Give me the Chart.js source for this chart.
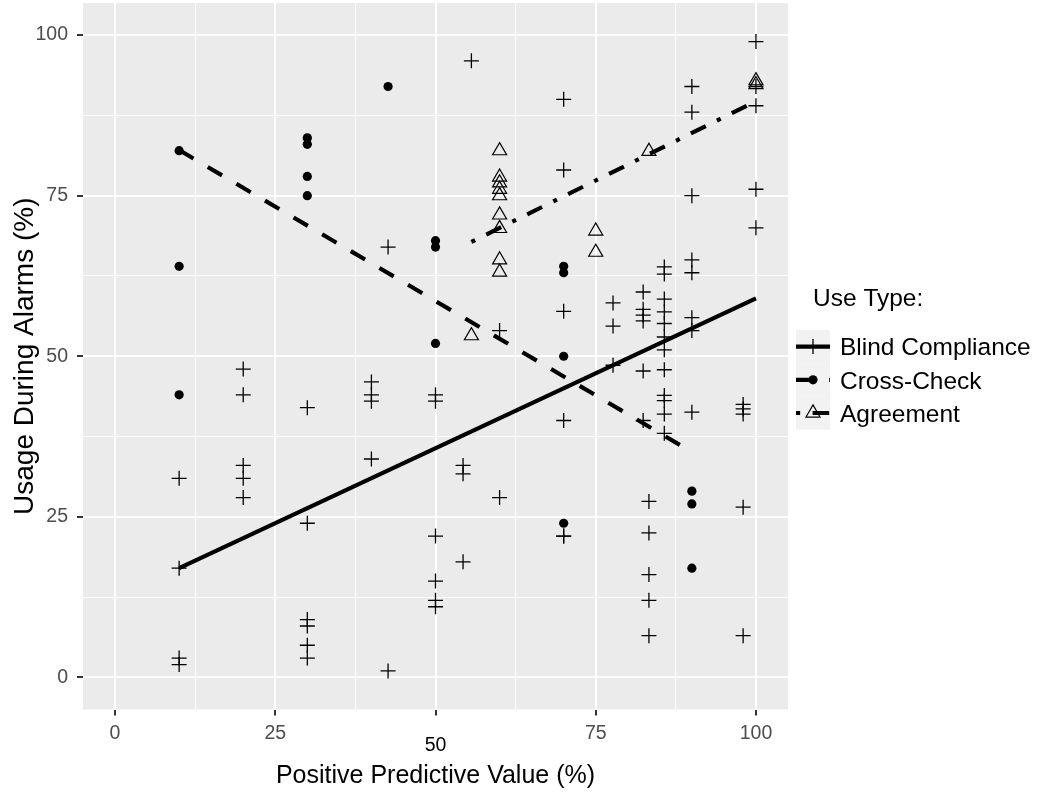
<!DOCTYPE html>
<html>
<head>
<meta charset="utf-8">
<script src="https://cdn.jsdelivr.net/npm/chart.js@4.4.1/dist/chart.umd.min.js"></script>
<style>
  html, body { margin: 0; padding: 0; background: #fff; }
</style>
</head>
<body>
<canvas id="ppvChart" width="1039" height="792"></canvas>
<script>
const FONT = '"Liberation Sans", Arial, Helvetica, sans-serif'

// PPV columns (%) and the usage values (%) observed at each one
const blindCols = [10, 20, 30, 40, 42.6, 50, 54.3, 55.6, 60, 70, 77.7, 82.4, 83.3, 85.7, 90, 98, 100]
const blindUsage = [
    [31, 17, 3, 2],
    [48, 44, 33, 31, 28],
    [42, 24, 9, 8, 5, 3],
    [46, 44, 43, 34],
    [67, 1],
    [44, 43, 22, 15, 12, 11],
    [33, 31.7, 18],
    [96],
    [54, 28],
    [90, 79, 57, 40, 22, 22],
    [58.3, 54.7, 48.6],
    [60, 57.3, 56.4, 55.5, 47.7, 40],
    [27.4, 22.5, 16, 12, 6.5],
    [63.9, 62.8, 58.9, 56.9, 55.1, 53, 51, 47.9, 43.9, 43.1, 41, 38],
    [92, 88, 75, 65, 63, 56, 54, 41.3],
    [42.5, 41.8, 41, 26.5, 6.5],
    [99, 92, 89, 76, 70]
]

const crossCols = [10, 30, 42.6, 50, 70, 90]
const crossUsage = [
    [82, 64, 44],
    [84, 83, 78, 75],
    [92],
    [68, 67, 52],
    [64, 63, 50, 24],
    [29, 27, 17]
]

const agreeCols = [55.6, 60, 75, 83.3, 100]
const agreeUsage = [
    [53.2],
    [82, 77.9, 77, 76, 75, 72, 69.9, 65, 63.1],
    [69.5, 66.2],
    [81.9],
    [92.9, 92.3]
]

// fitted lines, one per use type
const blindFitX = [10, 100]
const blindFitY = [17, 59]
const crossFitX = [10, 90]
const crossFitY = [82.1, 35.1]
const agreeFitX = [55.6, 100]
const agreeFitY = [67.8, 89.7]

const useTypes = ['Blind Compliance', 'Cross-Check', 'Agreement']
const gridValues = [0, 12.5, 25, 37.5, 50, 62.5, 75, 87.5, 100]
const tickValues = [0, 25, 50, 75, 100]

const toPoints = (cols, usage) => cols.flatMap((x, i) => usage[i].map(y => ({ x, y })))
const toLine = (xs, ys) => xs.map((x, i) => ({ x, y: ys[i] }))

const DASHED = [16.6, 16.6]
const DOTDASH = [4.15, 12.45, 16.6, 12.45]
const LINE_W = 4.15

const markers = [
    { pointStyle: 'cross', radius: 7.5, borderWidth: 1.3, fill: 'rgba(0,0,0,0)' },
    { pointStyle: 'circle', radius: 4.6, borderWidth: 0, fill: '#000' },
    { pointStyle: 'triangle', radius: 8.1, borderWidth: 1.2, fill: 'rgba(0,0,0,0)' }
]
const dashes = [[], DASHED, DOTDASH]

const pointSet = (label, data, m) => ({
    label,
    data,
    order: 2,
    pointStyle: m.pointStyle,
    pointRadius: m.radius,
    pointHoverRadius: m.radius,
    pointBorderWidth: m.borderWidth,
    pointBorderColor: '#000',
    pointBackgroundColor: m.fill
})

const lineSet = (label, data, dash) => ({
    label,
    data,
    order: 1,
    showLine: true,
    pointRadius: 0,
    borderColor: '#000',
    borderWidth: LINE_W,
    borderDash: dash,
    borderCapStyle: 'butt'
})

const panelBackground = {
    id: 'panelBackground',
    beforeDraw(chart) {
        const { ctx, chartArea: a } = chart
        ctx.save()
        ctx.fillStyle = '#fff'
        ctx.fillRect(0, 0, chart.width, chart.height)
        ctx.fillStyle = '#EBEBEB'
        ctx.fillRect(a.left, a.top, a.right - a.left, a.bottom - a.top)
        ctx.restore()
    }
}

// legend on the right: title, gray key boxes with line + marker, labels
const useTypeLegend = {
    id: 'useTypeLegend',
    afterDraw(chart) {
        const ctx = chart.ctx
        const keyX = chart.chartArea.right + 8
        const keyW = 34
        const keyTop = 330
        const keyH = 33.2
        ctx.save()
        ctx.fillStyle = '#000'
        ctx.font = `24.5px ${FONT}`
        ctx.textBaseline = 'middle'
        ctx.textAlign = 'left'
        ctx.fillText('Use Type:', keyX + 17, 299)

        useTypes.forEach((name, i) => {
            const cy = keyTop + keyH * (i + 0.5)
            ctx.fillStyle = '#F2F2F2'
            ctx.fillRect(keyX, keyTop + keyH * i, keyW, keyH)

            ctx.strokeStyle = '#000'
            ctx.lineWidth = LINE_W
            ctx.lineCap = 'butt'
            ctx.setLineDash(dashes[i])
            ctx.beginPath()
            ctx.moveTo(keyX, cy)
            ctx.lineTo(keyX + keyW, cy)
            ctx.stroke()
            ctx.setLineDash([])

            const m = markers[i]
            ctx.lineWidth = m.borderWidth
            ctx.fillStyle = m.fill
            Chart.helpers.drawPoint(ctx, m, keyX + keyW / 2, cy)

            ctx.fillStyle = '#000'
            ctx.fillText(name, keyX + 44, cy + 2)
        })
        ctx.restore()
    }
}

const axisGrid = {
    color: '#fff',
    lineWidth: c => (c.tick && c.tick.value % 25 === 0 ? 2 : 1),
    drawTicks: true,
    tickLength: 6,
    tickColor: c => (c.tick && c.tick.value % 25 === 0 ? '#333' : 'rgba(0,0,0,0)'),
    tickWidth: c => (c.tick && c.tick.value % 25 === 0 ? 2 : 0)
}

const setGridTicks = s => { s.ticks = gridValues.map(value => ({ value })) }
const tickLabel = v => (tickValues.includes(v) ? String(v) : '')

new Chart('ppvChart', {
    type: 'scatter',
    data: {
        datasets: [
            lineSet(useTypes[0] + ' fit', toLine(blindFitX, blindFitY), []),
            lineSet(useTypes[1] + ' fit', toLine(crossFitX, crossFitY), DASHED),
            lineSet(useTypes[2] + ' fit', toLine(agreeFitX, agreeFitY), DOTDASH),
            pointSet(useTypes[0], toPoints(blindCols, blindUsage), markers[0]),
            pointSet(useTypes[1], toPoints(crossCols, crossUsage), markers[1]),
            pointSet(useTypes[2], toPoints(agreeCols, agreeUsage), markers[2])
        ]
    },
    options: {
        responsive: false,
        animation: false,
        layout: { autoPadding: false, padding: { left: 0, right: 251, top: 3, bottom: 0 } },
        plugins: {
            legend: { display: false },
            tooltip: { enabled: false }
        },
        scales: {
            x: {
                type: 'linear',
                min: -5,
                max: 105,
                afterBuildTicks: setGridTicks,
                afterFit: s => {
                    s.height = 82.5
                    s.paddingLeft = 0
                    s.paddingRight = 0
                },
                border: { display: false },
                grid: axisGrid,
                ticks: {
                    autoSkip: false,
                    maxRotation: 0,
                    padding: 6,
                    callback: tickLabel,
                    color: c => (c.tick && c.tick.value === 50 ? '#000' : '#4D4D4D'),
                    font: c => ({
                        family: FONT,
                        size: 19.5,
                        lineHeight: c.tick && c.tick.value === 50 ? 2.5 : 1.2
                    })
                },
                title: {
                    display: true,
                    text: 'Positive Predictive Value (%)',
                    color: '#000',
                    font: { family: FONT, size: 25 },
                    padding: { top: 0, bottom: 1 }
                }
            },
            y: {
                type: 'linear',
                min: -5,
                max: 105,
                afterBuildTicks: setGridTicks,
                afterFit: s => {
                    s.width = 83
                    s.paddingTop = 0
                    s.paddingBottom = 0
                },
                border: { display: false },
                grid: axisGrid,
                ticks: {
                    autoSkip: false,
                    padding: 9,
                    callback: tickLabel,
                    color: '#4D4D4D',
                    // short line height keeps the top label from pushing the plot down
                    font: { family: FONT, size: 19.5, lineHeight: 0.25 }
                },
                title: {
                    display: true,
                    text: 'Usage During Alarms (%)',
                    color: '#000',
                    font: { family: FONT, size: 28 },
                    padding: { top: 8, bottom: 0 }
                }
            }
        }
    },
    plugins: [panelBackground, useTypeLegend]
})
</script>
</body>
</html>
